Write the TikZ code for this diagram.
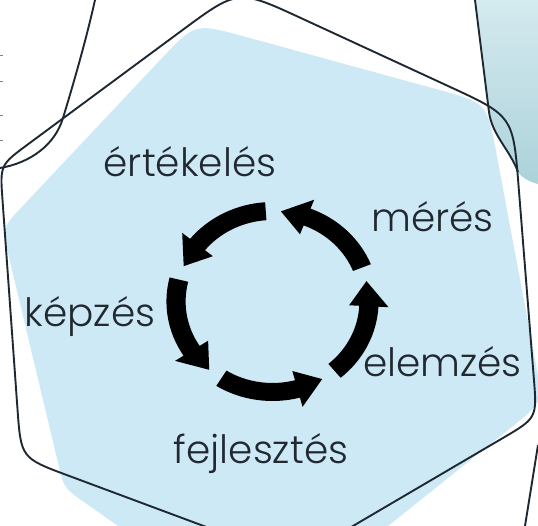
\documentclass[tikz,border=0pt]{standalone}
\usepackage{fontspec}
\setmainfont{Poppins}[UprightFont=* Light]
\usetikzlibrary{calc}
\definecolor{hexblue}{RGB}{206,233,246}
\definecolor{outline}{RGB}{30,40,50}
\definecolor{txt}{RGB}{33,40,48}
\definecolor{tealtop}{RGB}{212,234,239}
\definecolor{tealbot}{RGB}{172,210,218}
\newcommand{\cycarrow}[2]{%
  \fill ({#1}:99.5pt) arc[start angle={#1}, end angle={#2-16}, radius=99.5pt]
    -- ({#2-16}:109pt) -- ({#2}:90.5pt) -- ({#2-16}:72pt) -- ({#2-16}:81.5pt)
    arc[start angle={#2-16}, end angle={#1}, radius=81.5pt] -- cycle;}
\begin{document}
\begin{tikzpicture}[x=1pt,y=-1pt,
  edge/.style={draw=outline,line width=1.9pt},
  lbl/.style={text=txt,font=\fontsize{39}{46}\selectfont,inner sep=0pt,anchor=base}]
\useasboundingbox (0,0) rectangle (538,526);
% teal tile at top right
\shade[top color=tealtop,bottom color=tealbot]
  (475,0) -- (489,112) .. controls (492,135) and (510,150) .. (518,172)
  .. controls (522,178) and (530,182) .. (538,184) -- (538,0) -- cycle;
% light blue rounded hexagon
\coordinate (b1) at (195,23);
\coordinate (b2) at (487,103);
\coordinate (b3) at (543,402);
\coordinate (b4) at (262,627);
\coordinate (b5) at (64,488);
\coordinate (b6) at (2,228);
\fill[hexblue]
  ($(b1)!50pt!(b6)$) .. controls (b1) .. ($(b1)!50pt!(b2)$)
  -- ($(b2)!50pt!(b1)$) .. controls (b2) .. ($(b2)!50pt!(b3)$)
  -- ($(b3)!40pt!(b2)$) .. controls (b3) .. ($(b3)!40pt!(b4)$)
  -- ($(b4)!10pt!(b3)$) .. controls (b4) .. ($(b4)!10pt!(b5)$)
  -- ($(b5)!25pt!(b4)$) .. controls (b5) .. ($(b5)!25pt!(b6)$)
  -- ($(b6)!30pt!(b5)$) .. controls (b6) .. ($(b6)!30pt!(b1)$) -- cycle;
% dark outline hexagon
\coordinate (h1) at (238,-11);
\coordinate (h2) at (513,116);
\coordinate (h3) at (537,418);
\coordinate (h4) at (295,560);
\coordinate (h5) at (21,458);
\coordinate (h6) at (0,165);
\draw[edge]
  ($(h1)!70pt!(h6)$) .. controls (h1) .. ($(h1)!70pt!(h2)$)
  -- ($(h2)!70pt!(h1)$) .. controls (h2) .. ($(h2)!70pt!(h3)$)
  -- ($(h3)!40pt!(h2)$) .. controls (h3) .. ($(h3)!40pt!(h4)$)
  -- ($(h4)!20pt!(h3)$) .. controls (h4) .. ($(h4)!20pt!(h5)$)
  -- ($(h5)!50pt!(h4)$) .. controls (h5) .. ($(h5)!50pt!(h6)$)
  -- ($(h6)!35pt!(h5)$) .. controls (h6) .. ($(h6)!35pt!(h1)$) -- cycle;
% neighbouring outlines
\coordinate (a0) at (95,0);
\coordinate (a1) at (63,118);
\coordinate (a2) at (0,168);
\draw[edge] (a0) .. controls (85,45) and (70,95) .. (a1)
  .. controls (55,145) and (30,163) .. (a2);
\coordinate (t0) at (475,0);
\coordinate (t1) at (518,172);
\draw[edge] (t0) -- (489,112) .. controls (492,135) and (510,150) .. (t1);
\coordinate (c0) at (538,445);
\coordinate (c1) at (525,526);
\draw[edge] (c0) -- (c1);
% small marks at the left edge
\foreach \yy in {55,81,115,140} \draw[gray,line width=0.8pt] (0,\yy) -- (3,\yy);
% cycle of arrows
\begin{scope}[shift={(272.5,301.5)},xscale=1.066]
  \cycarrow{22}{85}
  \cycarrow{94}{157}
  \cycarrow{166}{229}
  \cycarrow{238}{301}
  \cycarrow{310}{373}
\end{scope}
% labels
\node[lbl] (ert) at (190,177) {értékelés};
\node[lbl] (mer) at (432.5,232) {mérés};
\node[lbl] (kep) at (90,327) {képzés};
\node[lbl] (ele) at (442.5,377) {elemzés};
\node[lbl] (fej) at (261,463) {fejlesztés};
\end{tikzpicture}
\end{document}
